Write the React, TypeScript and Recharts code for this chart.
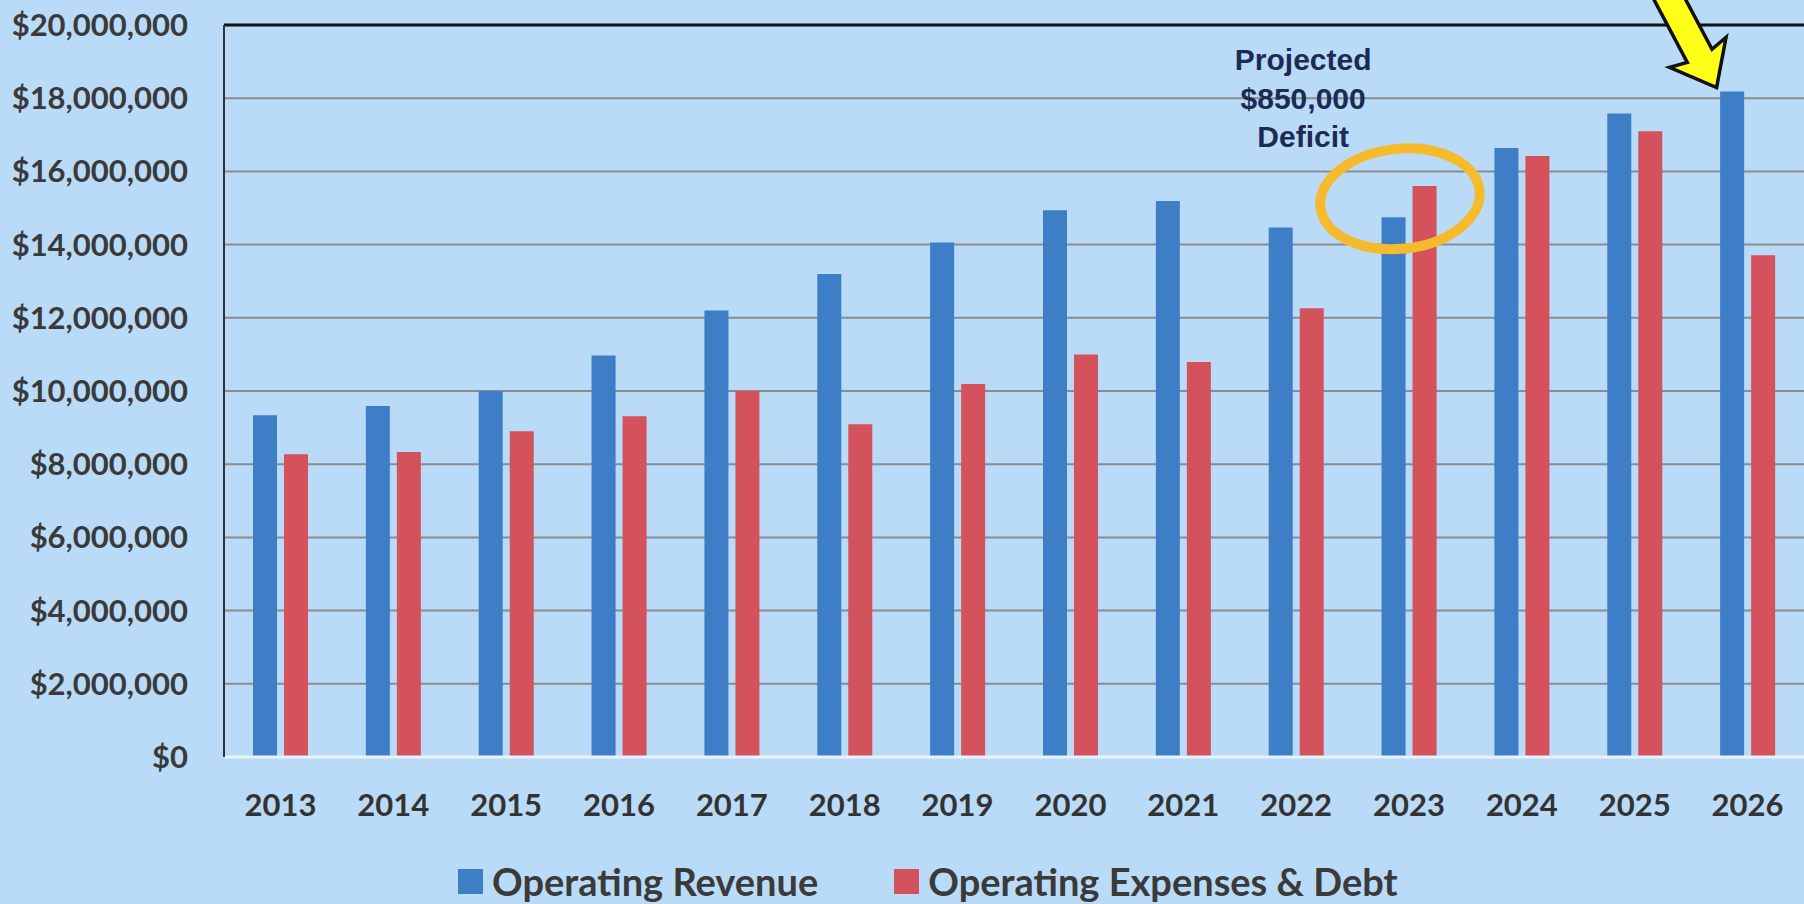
import { Bar, BarChart, CartesianGrid, Legend, ReferenceDot, ReferenceLine, XAxis, YAxis } from "recharts"

const years = ["2013", "2014", "2015", "2016", "2017", "2018", "2019", "2020", "2021", "2022", "2023", "2024", "2025", "2026"]
const revenue = [9.34, 9.59, 10.0, 10.97, 12.2, 13.2, 14.06, 14.94, 15.19, 14.47, 14.75, 16.64, 17.58, 18.18]
const expenses = [8.27, 8.33, 8.9, 9.31, 10.0, 9.09, 10.19, 11.0, 10.79, 12.26, 15.6, 16.42, 17.1, 13.71]
const yTicks = [0, 2, 4, 6, 8, 10, 12, 14, 16, 18, 20].map((m) => m * 1000000)
const noteLines = ["Projected", "$850,000", "Deficit"]

const data = years.map((year, i) => ({
  year,
  revenue: revenue[i] * 1000000,
  expenses: expenses[i] * 1000000,
}))

const BG = "#b9dbf7"
const BLUE = "#3d7ec6"
const RED = "#d4525c"
const FONT = "Lato, 'Open Sans', sans-serif"

const money = (v: number) => `$${v.toLocaleString("en-US")}`

function NoteText(props: any) {
  const { cx, cy } = props
  return (
    <g>
      {noteLines.map((line, i) => (
        <text
          key={line}
          x={cx + 7}
          y={cy + 45 + i * 38.5}
          textAnchor="middle"
          fontFamily="'Liberation Sans', Arial, sans-serif"
          fontWeight={700}
          fontSize={30}
          fill="#1c2b55"
        >
          {line}
        </text>
      ))}
    </g>
  )
}

function Ring(props: any) {
  const { cx, cy } = props
  return (
    <ellipse
      cx={cx - 9}
      cy={cy}
      rx={80}
      ry={50}
      fill="none"
      stroke="#f5bb2c"
      strokeWidth={10}
      transform={`rotate(-6 ${cx - 9} ${cy})`}
    />
  )
}

function Arrow(props: any) {
  const { cx, cy } = props
  const tx = cx - 31
  const ty = cy - 4
  const pts = "0,0 -40,-32 -36,-14 -130,-14 -130,14 -36,14 -40,32"
  return (
    <polygon
      points={pts}
      fill="#ffff1a"
      stroke="#111"
      strokeWidth={3.5}
      strokeLinejoin="miter"
      transform={`translate(${tx} ${ty}) rotate(62)`}
    />
  )
}

function LegendBox() {
  const item = (color: string, label: string, ml: number) => (
    <span style={{ display: "inline-flex", alignItems: "center", marginLeft: ml }}>
      <span style={{ width: 25, height: 25, background: color, display: "inline-block", marginRight: 9 }} />
      <span>{label}</span>
    </span>
  )
  return (
    <div
      style={{
        height: 44,
        display: "flex",
        alignItems: "center",
        fontFamily: FONT,
        fontWeight: 700,
        fontSize: 38,
        lineHeight: "40px",
        color: "#3a3a3a",
        whiteSpace: "nowrap",
      }}
    >
      {item(BLUE, "Operating Revenue", 458)}
      {item(RED, "Operating Expenses & Debt", 76)}
    </div>
  )
}

export default function App() {
  return (
    <div style={{ position: "absolute", left: 0, top: 0, width: 1804, height: 904, background: BG, overflow: "hidden" }}>
      <BarChart
        width={1804}
        height={904}
        data={data}
        margin={{ top: 25, right: 0, left: 0, bottom: 33 }}
        barSize={24}
        barGap={7}
      >
        <CartesianGrid vertical={false} stroke="#8c8c8c" strokeWidth={2} />
        <XAxis
          dataKey="year"
          height={70}
          tickLine={false}
          tickSize={0}
          tickMargin={37}
          axisLine={{ stroke: "#e9f3fc", strokeWidth: 3 }}
          tick={{ fontFamily: FONT, fontWeight: 700, fontSize: 31, fill: "#333" }}
        />
        <YAxis
          width={224}
          domain={[0, 20000000]}
          ticks={yTicks}
          interval={0}
          tickLine={false}
          tickSize={0}
          tickMargin={36}
          tickFormatter={money}
          axisLine={{ stroke: "#333", strokeWidth: 2 }}
          tick={{ fontFamily: FONT, fontWeight: 700, fontSize: 31, fill: "#3a3a3a" }}
        />
        <ReferenceLine y={20000000} stroke="#111" strokeWidth={3} />
        <Legend verticalAlign="bottom" wrapperStyle={{ top: 859, left: 0, width: 1804 }} content={() => <LegendBox />} />
        <Bar dataKey="revenue" name="Operating Revenue" fill={BLUE} isAnimationActive={false} />
        <Bar dataKey="expenses" name="Operating Expenses & Debt" fill={RED} isAnimationActive={false} />
        <ReferenceDot x="2022" y={20000000} ifOverflow="visible" shape={<NoteText />} />
        <ReferenceDot x="2023" y={15250000} ifOverflow="visible" shape={<Ring />} />
        <ReferenceDot x="2026" y={revenue[13] * 1000000} ifOverflow="visible" shape={<Arrow />} />
      </BarChart>
    </div>
  )
}
